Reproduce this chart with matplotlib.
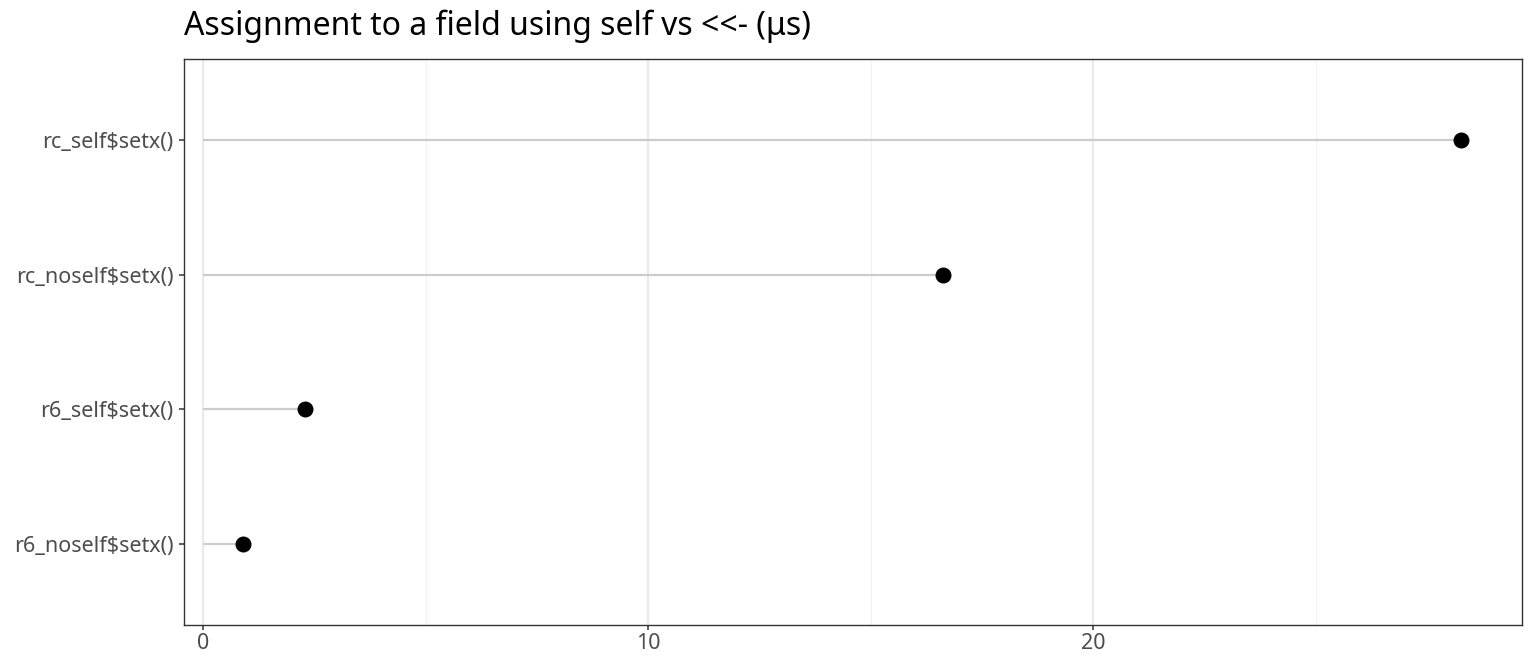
import numpy as np
import matplotlib.pyplot as plt

plt.rcParams['font.family'] = ['Noto Sans', 'DejaVu Sans']

# bottom to top, as drawn
labels = ['r6_noself$setx()', 'r6_self$setx()', 'rc_noself$setx()', 'rc_self$setx()']
times_us = [0.90, 2.29, 16.63, 28.27]
title = 'Assignment to a field using self vs <<- (\u03bcs)'

fig = plt.figure(figsize=(15.36, 6.72), dpi=100)
ax = fig.add_axes([184 / 1536, 1 - 625 / 672, (1522 - 184) / 1536, (625 - 59) / 672])

y = np.arange(len(labels))
ax.hlines(y, 0, times_us, color='#cccccc', lw=1.6, zorder=2)
ax.scatter(times_us, y, s=110, color='black', zorder=3)

ax.set_xlim(-0.43, 29.64)
ax.set_ylim(-0.6, len(labels) - 1 + 0.6)
ax.set_yticks(y)
ax.set_yticklabels(labels)
ax.set_xticks([0, 10, 20])
ax.set_xticks([5, 15, 25], minor=True)
ax.grid(axis='x', which='major', color='#ebebeb', lw=1.6, zorder=0)
ax.grid(axis='x', which='minor', color='#f3f3f3', lw=0.9, zorder=0)
ax.set_axisbelow(True)

ax.tick_params(axis='both', which='major', labelsize=15.5, colors='#333333',
               labelcolor='#4d4d4d', length=3.6, width=1.1)
ax.tick_params(axis='y', which='major', pad=4)
ax.tick_params(axis='x', which='major', pad=2)
ax.tick_params(axis='x', which='minor', length=0)
for s in ax.spines.values():
    s.set_color('#333333')
    s.set_linewidth(1.0)

fig.text(184 / 1536, 1 - 26 / 672, title, fontsize=23, va='center', ha='left', color='black')

fig.savefig('out.png', dpi=100)
